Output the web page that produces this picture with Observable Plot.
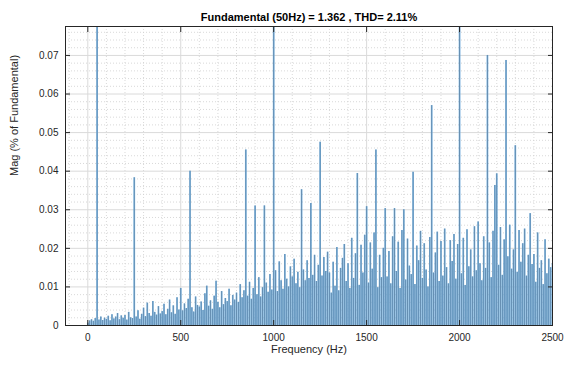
<!DOCTYPE html>
<html>
<head>
<meta charset="utf-8">
<script src="https://cdn.jsdelivr.net/npm/d3@7"></script>
<script src="https://cdn.jsdelivr.net/npm/@observablehq/plot@0.6"></script>
<style>
  html, body { margin: 0; padding: 0; background: #fff; }
</style>
</head>
<body>
<div id="chart"></div>
<script>
// Harmonic spectrum of the measured signal, 10 Hz bins from 0 to 2500 Hz.
// Magnitudes are given in thousandths (0.001) and converted when the table is built.
const binStepHz = 10;
const magMilli = [
  // 0 - 90 Hz (the fundamental at 50 Hz runs off the top)
  0.6, 1.2, 1.5, 1.1, 1.8, 1000, 1.4, 2.2, 1.3, 1.9,
  // 100 - 190 Hz
  1.6, 2.4, 1.2, 2.8, 1.7, 2.2, 3.1, 1.5, 2.5, 1.9,
  // 200 - 290 Hz
  2.6, 1.4, 3.4, 2.0, 1.8, 38.3, 2.2, 3.8, 1.6, 2.9,
  // 300 - 390 Hz
  4.5, 2.3, 5.8, 3.1, 2.4, 6.2, 3.4, 2.7, 4.9, 3.0,
  // 400 - 490 Hz
  3.6, 5.5, 2.8, 4.2, 6.6, 3.3, 5.1, 2.9, 7.2, 4.0,
  // 500 - 590 Hz
  9.6, 3.8, 5.6, 4.4, 6.8, 40.0, 4.6, 3.5, 7.4, 5.2,
  // 600 - 690 Hz
  4.8, 6.1, 3.9, 8.2, 10.2, 5.0, 6.4, 4.2, 7.6, 11.5,
  // 700 - 790 Hz
  6.0, 4.6, 8.8, 5.4, 7.0, 6.2, 9.4, 5.1, 7.8, 6.6,
  // 800 - 890 Hz
  8.4, 6.0, 10.6, 7.2, 9.0, 45.5, 7.6, 11.2, 6.8, 9.6,
  // 900 - 990 Hz
  31.0, 8.0, 12.4, 7.4, 9.8, 31.0, 11.0, 8.6, 13.2, 9.2,
  // 1000 - 1090 Hz
  90.0, 14.2, 8.8, 16.5, 11.6, 9.4, 18.4, 12.0, 10.0, 15.2,
  // 1100 - 1190 Hz
  12.6, 17.2, 10.8, 13.8, 9.8, 35.2, 14.4, 11.6, 16.8, 12.2,
  // 1200 - 1290 Hz
  31.6, 13.0, 18.2, 11.4, 15.6, 47.5, 12.8, 17.6, 14.0, 19.0,
  // 1300 - 1390 Hz
  13.6, 8.4, 16.4, 10.2, 20.2, 9.0, 14.8, 17.4, 21.0, 11.4,
  // 1400 - 1490 Hz
  16.0, 9.6, 22.6, 12.2, 18.6, 39.4, 10.4, 20.8, 13.6, 23.4,
  // 1500 - 1590 Hz
  30.8, 11.0, 21.4, 14.6, 24.0, 45.5, 9.8, 18.2, 12.4, 20.0,
  // 1600 - 1690 Hz
  30.3, 12.6, 19.2, 10.8, 23.0, 30.3, 14.0, 21.6, 9.6, 24.6,
  // 1700 - 1790 Hz
  30.0, 11.8, 22.4, 15.4, 13.2, 39.7, 10.6, 20.6, 16.8, 24.4,
  // 1800 - 1890 Hz
  12.2, 21.2, 14.4, 10.0, 22.8, 57.0, 13.6, 18.8, 24.2, 11.4,
  // 1900 - 1990 Hz
  21.8, 12.8, 25.0, 15.0, 10.8, 22.0, 16.6, 23.6, 12.0, 21.0,
  // 2000 - 2090 Hz
  90.0, 13.4, 22.6, 10.4, 24.8, 15.2, 19.6, 12.6, 25.6, 14.2,
  // 2100 - 2190 Hz
  26.8, 16.0, 11.6, 23.0, 14.8, 70.0, 21.4, 12.4, 24.4, 36.3,
  // 2200 - 2290 Hz
  39.3, 15.6, 25.4, 13.0, 22.2, 68.7, 17.8, 26.0, 14.6, 19.6,
  // 2300 - 2390 Hz
  46.6, 13.8, 24.6, 16.4, 21.2, 25.0, 12.8, 18.2, 29.0, 15.8,
  // 2400 - 2490 Hz
  18.4, 11.2, 24.0, 14.8, 16.8, 10.6, 22.2, 13.4, 17.2, 15.0,
  // 2500 Hz
  16.0
];

const xTicks = [0, 500, 1000, 1500, 2000, 2500];
const yTicks = [0, 0.01, 0.02, 0.03, 0.04, 0.05, 0.06, 0.07];
const xMinorTicks = [-100, 100, 200, 300, 400, 600, 700, 800, 900, 1100, 1200, 1300, 1400,
  1600, 1700, 1800, 1900, 2100, 2200, 2300, 2400];
const yMinorTicks = [0.002, 0.004, 0.006, 0.008, 0.012, 0.014, 0.016, 0.018, 0.022, 0.024, 0.026,
  0.028, 0.032, 0.034, 0.036, 0.038, 0.042, 0.044, 0.046, 0.048, 0.052, 0.054, 0.056, 0.058,
  0.062, 0.064, 0.066, 0.068, 0.072, 0.074, 0.076];

const titleText = "Fundamental (50Hz) = 1.362 , THD= 2.11%";
const xLabel = "Frequency (Hz)";
const yLabel = "Mag (% of Fundamental)";

const spectrum = magMilli.map((m, i) => ({ freq: i * binStepHz, mag: m / 1000 }));

const ink = "#262626";
const font = "'Liberation Sans', Arial, Helvetica, sans-serif";

const chart = Plot.plot({
  width: 566,
  height: 366,
  marginLeft: 65,
  marginRight: 14,
  marginTop: 26,
  marginBottom: 41,
  style: { fontFamily: font, fontSize: "10px", color: ink, background: "#fff" },
  x: { domain: [-120, 2500] },
  y: { domain: [0, 0.0775] },
  marks: [
    // minor grid
    Plot.gridX(xMinorTicks, { stroke: "#cfcfcf", strokeOpacity: 0.8, strokeDasharray: "1,2" }),
    Plot.gridY(yMinorTicks, { stroke: "#cfcfcf", strokeOpacity: 0.8, strokeDasharray: "1,2" }),
    // major grid
    Plot.gridX(xTicks, { stroke: "#dadada", strokeOpacity: 1 }),
    Plot.gridY(yTicks, { stroke: "#dadada", strokeOpacity: 1 }),
    // spectrum bars: light blue face with a thin grey edge
    Plot.ruleX(spectrum, { x: "freq", y1: 0, y2: "mag", stroke: "#6fb0e2", strokeWidth: 1.7, clip: true }),
    Plot.ruleX(spectrum, { x: "freq", y1: 0, y2: "mag", stroke: "#5d6d7e", strokeWidth: 0.7, strokeOpacity: 0.7, clip: true }),
    Plot.frame({ stroke: ink, strokeWidth: 1 }),
    // axes with inward ticks, mirrored on the opposite sides
    Plot.axisX({ ticks: xTicks, tickSize: -5, tickPadding: 13, label: null, tickFormat: d => String(d), stroke: ink }),
    Plot.axisX({ anchor: "top", ticks: xTicks, tickSize: -5, label: null, tickFormat: () => "", stroke: ink }),
    Plot.axisY({ ticks: yTicks, tickSize: -5, tickPadding: 12, label: null,
      tickFormat: d => d === 0 ? "0" : d.toFixed(2), stroke: ink }),
    Plot.axisY({ anchor: "right", ticks: yTicks, tickSize: -5, label: null, tickFormat: () => "", stroke: ink }),
    // title and axis labels
    Plot.text([titleText], { text: d => d, frameAnchor: "top", dy: -13, fontWeight: "bold", fontSize: 11, fill: "#000" }),
    Plot.text([xLabel], { text: d => d, frameAnchor: "bottom", dy: 27, fontSize: 11, fill: ink }),
    Plot.text([yLabel], { text: d => d, frameAnchor: "left", dx: -51, rotate: -90, fontSize: 11, fill: ink })
  ]
});

document.getElementById("chart").appendChild(chart);
</script>
</body>
</html>
